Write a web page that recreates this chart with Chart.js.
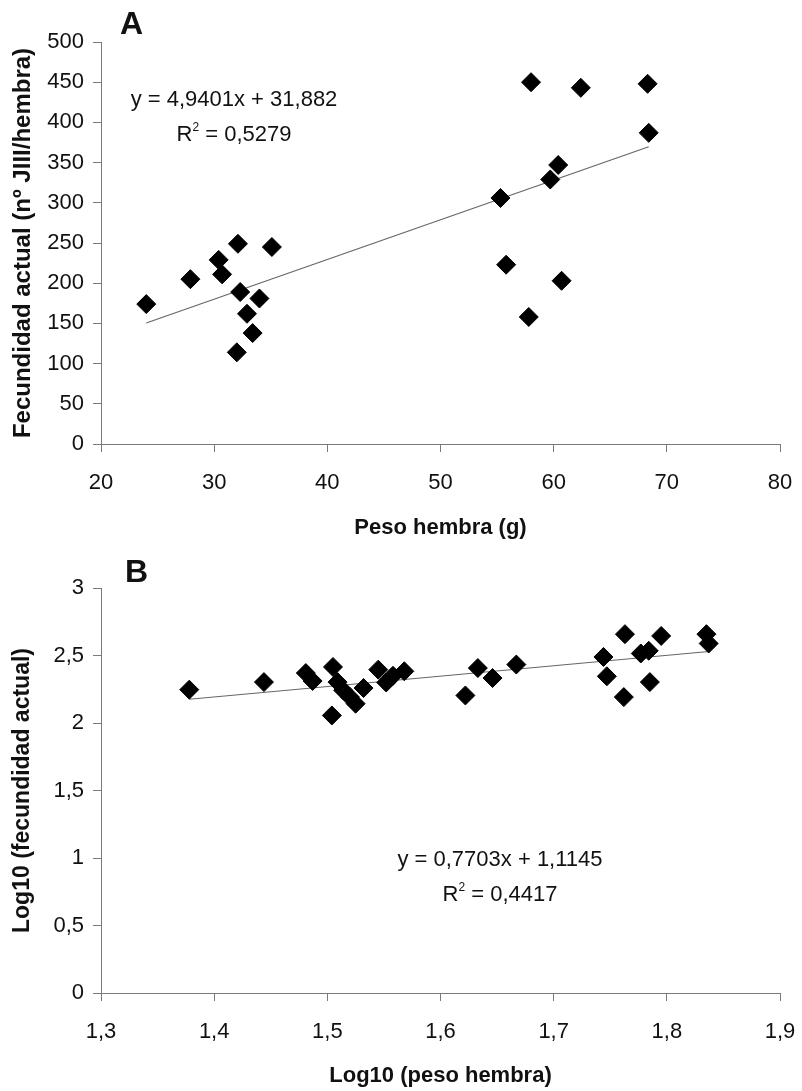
<!DOCTYPE html>
<html>
<head>
<meta charset="utf-8">
<script src="https://cdn.jsdelivr.net/npm/chart.js@4.4.1/dist/chart.umd.min.js"></script>
<style>
  body { margin: 0; background: #fff; font-family: "Liberation Sans", Arial, sans-serif; }
  #page { position: relative; width: 802px; height: 1091px; overflow: hidden; }
  .box { position: absolute; left: 0; width: 802px; }
  .letter { position: absolute; font-weight: bold; font-size: 32px; color: #111; }
  .eq { position: absolute; width: 260px; text-align: center; font-size: 22px; line-height: 35px; color: #111; }
  .eq sup { font-size: 12px; vertical-align: 10px; line-height: 0; }
</style>
</head>
<body>
<div id="page">
  <div class="box" style="top:0;height:545px"><canvas id="chartA" width="802" height="545"></canvas></div>
  <div class="box" style="top:545px;height:546px"><canvas id="chartB" width="802" height="546"></canvas></div>

  <div class="letter" style="left:120px;top:5px">A</div>
  <div class="letter" style="left:125px;top:553px">B</div>

  <div class="eq" style="left:104px;top:81px">y = 4,9401x + 31,882<br>R<sup>2</sup> = 0,5279</div>
  <div class="eq" style="left:370px;top:841px">y = 0,7703x + 1,1145<br>R<sup>2</sup> = 0,4417</div>
</div>

<script>
// panel A: peso hembra (g) vs fecundidad actual
const pesoA = [24.0, 27.9, 30.4, 30.7, 32.1, 32.3, 35.1, 34.0, 32.9, 33.4, 32.0,
  58.0, 62.4, 68.3, 68.4, 60.4, 59.7, 55.3, 55.8, 60.7, 57.8];
const fecundidadA = [174, 205, 229, 211, 249, 189, 245, 181, 162, 138, 114,
  450, 443, 448, 387, 347, 329, 306, 223, 203, 158];
const ticksYA = [0, 50, 100, 150, 200, 250, 300, 350, 400, 450, 500];
const ticksXA = [20, 30, 40, 50, 60, 70, 80];
const trendA = { slope: 4.9401, intercept: 31.882, from: 24.0, to: 68.4 };

// panel B: log10 de los mismos datos
const logPesoB = [1.378, 1.444, 1.481, 1.487, 1.505, 1.504, 1.509, 1.514, 1.520, 1.525,
  1.532, 1.545, 1.552, 1.558, 1.568, 1.622, 1.633, 1.646, 1.667,
  1.744, 1.747, 1.762, 1.763, 1.777, 1.784, 1.795, 1.785, 1.835, 1.837];
const logFecundidadB = [2.247, 2.303, 2.370, 2.311, 2.415, 2.056, 2.303, 2.242, 2.192, 2.143,
  2.259, 2.395, 2.300, 2.350, 2.383, 2.204, 2.407, 2.333, 2.433,
  2.489, 2.346, 2.192, 2.658, 2.515, 2.535, 2.645, 2.303, 2.658, 2.589];
const ticksYB = [0, 0.5, 1, 1.5, 2, 2.5, 3];
const ticksXB = [1.3, 1.4, 1.5, 1.6, 1.7, 1.8, 1.9];
const trendB = { slope: 0.7703, intercept: 1.1145, from: 1.378, to: 1.837 };

const axisGrey = '#7a7a7a';
const font = 'Liberation Sans, Arial, sans-serif';

// formato "general" de Excel con coma decimal
function comma(v) {
  const r = Math.round(v * 10) / 10;
  return String(r).replace('.', ',');
}

function makeChart(canvas, xs, ys, trend, cfg) {
  const points = xs.map((x, i) => ({ x: x, y: ys[i] }));
  const line = [
    { x: trend.from, y: trend.slope * trend.from + trend.intercept },
    { x: trend.to, y: trend.slope * trend.to + trend.intercept }
  ];

  return new Chart(canvas, {
    type: 'scatter',
    data: {
      datasets: [{
        data: points,
        pointStyle: 'rectRot',
        pointRadius: 9.5,
        backgroundColor: '#000',
        borderColor: '#000',
        borderWidth: 1
      }, {
        data: line,
        showLine: true,
        borderColor: '#666',
        borderWidth: 1.2,
        pointRadius: 0
      }]
    },
    options: {
      responsive: false,
      animation: false,
      layout: { padding: { left: 0, right: 22, top: cfg.top, bottom: 0 } },
      plugins: { legend: { display: false }, tooltip: { enabled: false } },
      scales: {
        x: {
          type: 'linear',
          min: cfg.xTicks[0],
          max: cfg.xTicks[cfg.xTicks.length - 1],
          afterBuildTicks: s => { s.ticks = cfg.xTicks.map(v => ({ value: v })); },
          afterFit: s => {
            s.height = cfg.xHeight;
            // el ultimo rotulo puede salirse un poco, como en el original
            s.paddingLeft = 0;
            s.paddingRight = 0;
          },
          border: { color: axisGrey, width: 1 },
          grid: { drawOnChartArea: false, drawTicks: true, tickLength: 8, color: axisGrey },
          ticks: {
            color: '#111', padding: 18, maxRotation: 0,
            font: { family: font, size: 22 },
            callback: v => comma(v)
          },
          title: {
            display: true, text: cfg.xTitle, color: '#111',
            font: { family: font, size: 22, weight: 'bold' },
            padding: { top: 0, bottom: cfg.xTitlePad }
          }
        },
        y: {
          type: 'linear',
          min: cfg.yTicks[0],
          max: cfg.yTicks[cfg.yTicks.length - 1],
          afterBuildTicks: s => { s.ticks = cfg.yTicks.map(v => ({ value: v })); },
          afterFit: s => { s.width = 101; },
          border: { color: axisGrey, width: 1 },
          grid: { drawOnChartArea: false, drawTicks: true, tickLength: 8, color: axisGrey },
          ticks: {
            color: '#111', padding: 9,
            font: { family: font, size: 22 },
            callback: v => comma(v)
          },
          title: {
            display: true, text: cfg.yTitle, color: '#111',
            font: { family: font, size: cfg.yTitleSize, weight: 'bold' },
            padding: { top: 9, bottom: 0 }
          }
        }
      }
    }
  });
}

makeChart(document.getElementById('chartA'), pesoA, fecundidadA, trendA, {
  top: 42, xHeight: 101, xTitlePad: 4, yTitleSize: 24,
  xTicks: ticksXA, yTicks: ticksYA,
  xTitle: 'Peso hembra (g)',
  yTitle: 'Fecundidad actual (nº JIII/hembra)'
});

makeChart(document.getElementById('chartB'), logPesoB, logFecundidadB, trendB, {
  top: 43, xHeight: 98, xTitlePad: 2, yTitleSize: 23,
  xTicks: ticksXB, yTicks: ticksYB,
  xTitle: 'Log10 (peso hembra)',
  yTitle: 'Log10 (fecundidad actual)'
});
</script>
</body>
</html>
